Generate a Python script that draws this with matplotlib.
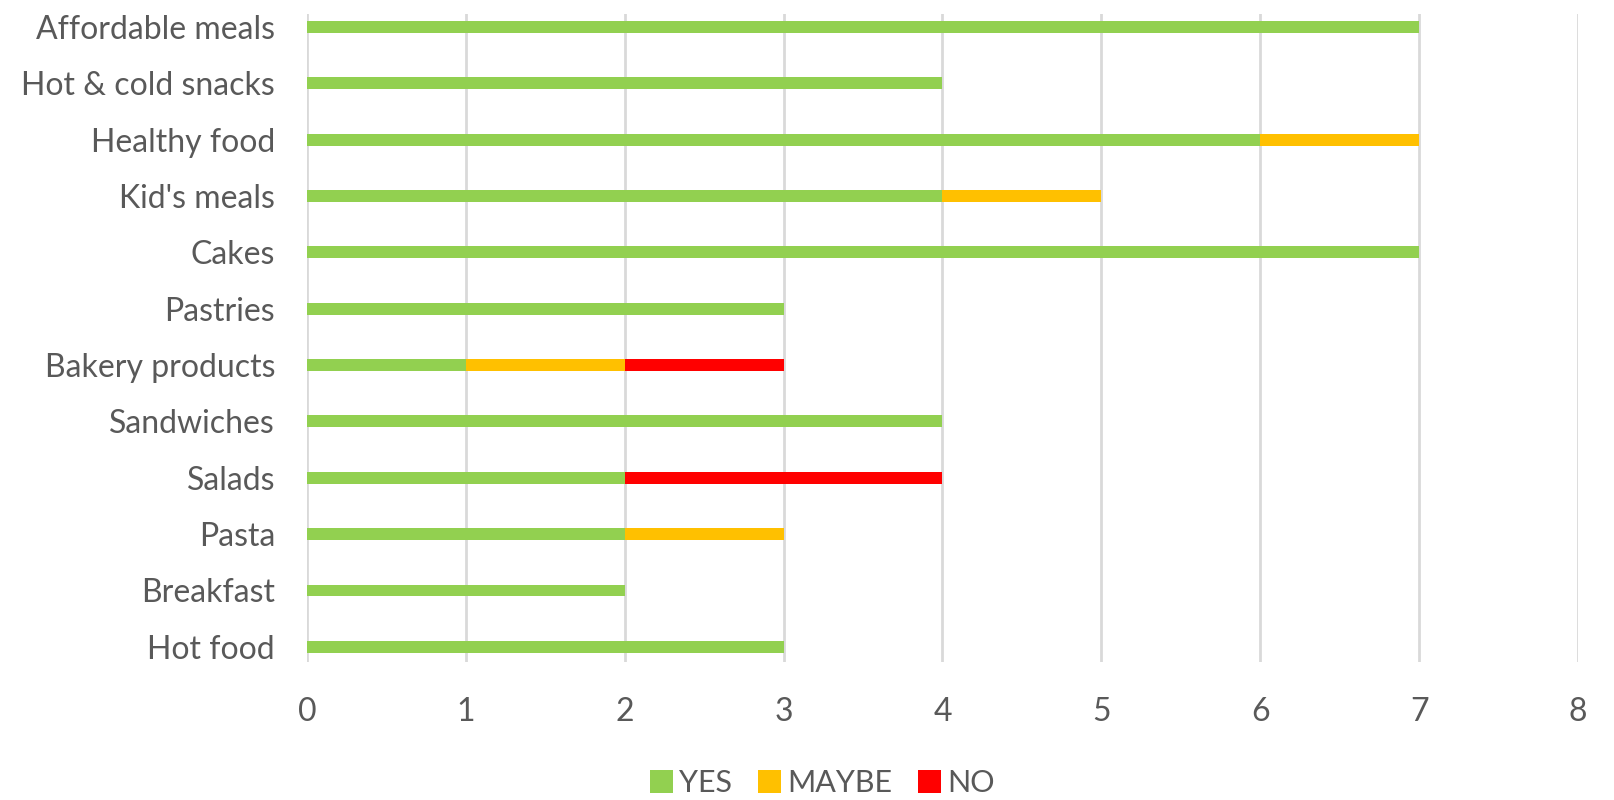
import matplotlib.pyplot as plt
import numpy as np

# Data
categories = ['Hot food', 'Breakfast', 'Pasta', 'Salads', 'Sandwiches', 'Bakery products',
              'Pastries', 'Cakes', "Kid's meals", 'Healthy food', 'Hot & cold snacks', 'Affordable meals']
yes = [3, 2, 2, 2, 4, 1, 3, 7, 4, 6, 4, 7]
maybe = [0, 0, 1, 0, 0, 1, 0, 0, 1, 1, 0, 0]
no = [0, 0, 0, 2, 0, 1, 0, 0, 0, 0, 0, 0]

plt.rcParams['font.family'] = ['Lato', 'DejaVu Sans']
text_color = '#595959'

fig = plt.figure(figsize=(16.15, 8), dpi=100)
ax = fig.add_axes([307 / 1615, 138 / 800, (1578 - 307) / 1615, (662 - 14) / 800])

y = np.arange(len(categories))
h = 0.21
yes = np.array(yes)
maybe = np.array(maybe)
no = np.array(no)
ax.barh(y, yes, height=h, color='#92D050', label='YES', zorder=3)
ax.barh(y, maybe, left=yes, height=h, color='#FFC000', label='MAYBE', zorder=3)
ax.barh(y, no, left=yes + maybe, height=h, color='#FF0000', label='NO', zorder=3)

ax.set_xlim(0, 8)
ax.set_ylim(-0.27, 11.23)
ax.set_xticks(range(9))
ax.set_yticks(y)
ax.set_yticklabels(categories)
ax.grid(axis='x', color='#D9D9D9', linewidth=2, zorder=0)
for s in ax.spines.values():
    s.set_visible(False)
ax.tick_params(length=0, labelsize=23, colors=text_color)
ax.tick_params(axis='y', pad=23)
ax.tick_params(axis='x', pad=25)

leg = fig.legend(loc='center', bbox_to_anchor=(822 / 1615, 1 - 783 / 800), ncol=3,
                 frameon=False, fontsize=22, handlelength=0.75, handleheight=0.75,
                 handletextpad=0.2, columnspacing=0.85)
for t in leg.get_texts():
    t.set_color(text_color)

fig.savefig('out.png', dpi=100)
